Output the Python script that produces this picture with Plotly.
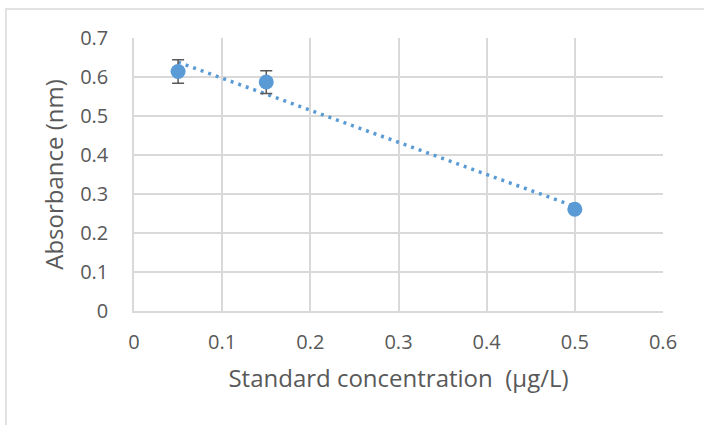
import numpy as np
import plotly.graph_objects as go

conc = [0.05, 0.15, 0.5]
absorb = [0.614, 0.587, 0.261]
err = [0.030, 0.029, 0.006]
x_ticks = [0, 0.1, 0.2, 0.3, 0.4, 0.5, 0.6]
y_ticks = [0, 0.1, 0.2, 0.3, 0.4, 0.5, 0.6, 0.7]

slope, intercept = np.polyfit(conc, absorb, 1)
tx = [min(conc), max(conc)]
ty = [slope * v + intercept for v in tx]

blue = "#5b9bd5"
grey_txt = "#595959"
grid = "#d9d9d9"
font_family = "Open Sans, Liberation Sans, sans-serif"

fig = go.Figure()
fig.add_trace(go.Scatter(x=tx, y=ty, mode="lines",
                         line=dict(color=blue, width=3.5, dash="3px,5px"),
                         showlegend=False, hoverinfo="skip"))
fig.add_trace(go.Scatter(x=conc, y=absorb, mode="markers",
                         marker=dict(color=blue, size=15),
                         error_y=dict(type="data", array=err, color=grey_txt,
                                      thickness=1.5, width=6),
                         showlegend=False))

fig.update_layout(
    width=704, height=425,
    margin=dict(l=134, r=41, t=38, b=114),
    paper_bgcolor="white", plot_bgcolor="white",
    font=dict(family=font_family, color=grey_txt),
    xaxis=dict(range=[0, 0.6], tickvals=x_ticks, ticktext=[f"{v:g}" for v in x_ticks],
               showgrid=True, gridcolor=grid, gridwidth=1.5,
               zeroline=False, showline=True, linecolor=grid, linewidth=1.5,
               ticks="outside", ticklen=12, tickcolor="rgba(0,0,0,0)",
               tickfont=dict(size=20, color=grey_txt),
               title=dict(text="Standard concentration  (µg/L)",
                          font=dict(size=24, color=grey_txt), standoff=16)),
    yaxis=dict(range=[0, 0.7], tickvals=y_ticks, ticktext=[f"{v:g}" for v in y_ticks],
               showgrid=True, gridcolor=grid, gridwidth=1.5,
               zeroline=False, showline=True, linecolor=grid, linewidth=1.5,
               ticks="outside", ticklen=20, tickcolor="rgba(0,0,0,0)",
               tickfont=dict(size=20, color=grey_txt),
               title=dict(text="Absorbance (nm)",
                          font=dict(size=24, color=grey_txt), standoff=10)),
    shapes=[dict(type="rect", xref="paper", yref="paper",
                 x0=-0.242, x1=1.3, y0=-0.6, y1=1.106,
                 line=dict(color=grid, width=1.5), layer="below")],
)

fig.write_html("out.html", config={"displayModeBar": False},
               post_script="document.body.style.margin='0';")
